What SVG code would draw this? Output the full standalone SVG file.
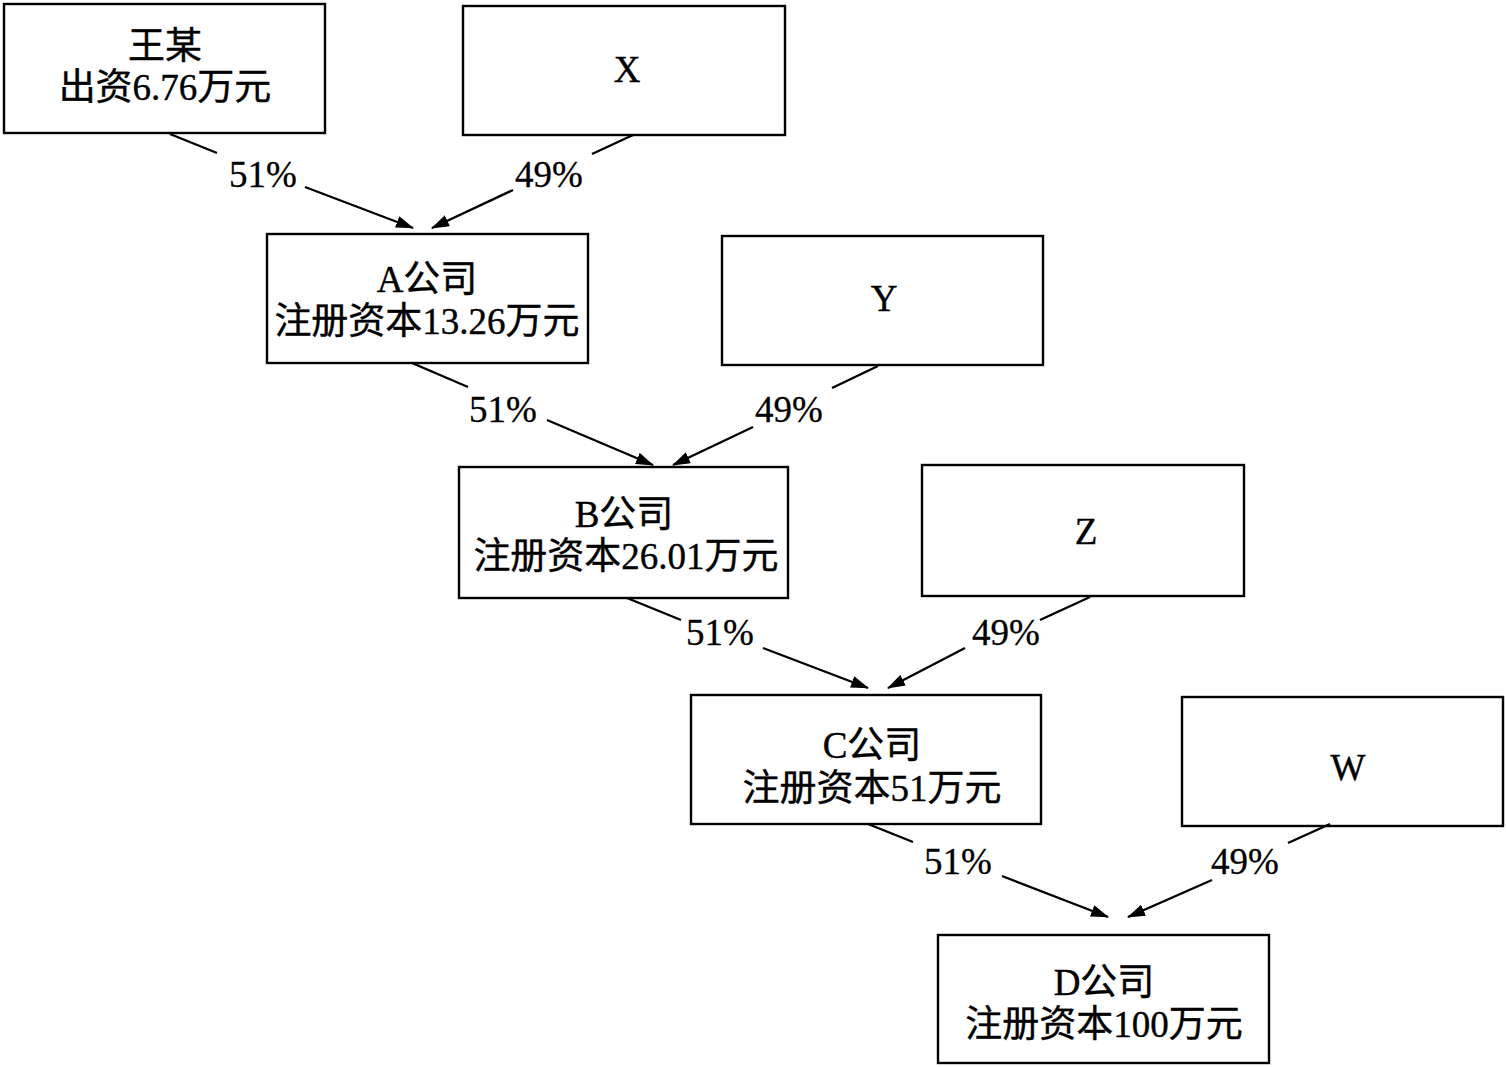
<svg xmlns="http://www.w3.org/2000/svg" width="1506" height="1067" viewBox="0 0 1506 1067">
<style>
.box{fill:#fff;stroke:#000;stroke-width:2.4}
.t{font-family:"Liberation Serif","Noto Sans CJK SC",serif;font-size:37px;fill:#000;text-anchor:middle;stroke:#000;stroke-width:0.4}
.p{font-family:"Liberation Serif",serif;font-size:37px;fill:#000;text-anchor:middle;stroke:#000;stroke-width:0.3}
.ln{stroke:#000;stroke-width:2.4;fill:none}
</style>
<defs>
<marker id="ah" viewBox="0 0 18 12" refX="17" refY="6" markerWidth="18" markerHeight="12" markerUnits="userSpaceOnUse" orient="auto">
<path d="M0,0 L18,6 L0,12 Z" fill="#000"/>
</marker>
</defs>
<rect width="1506" height="1067" fill="#fff"/>
<g id="wang"><rect class="box" x="4" y="4" width="321" height="129"/><text class="t" x="165" y="59">王某</text><text class="t" x="165" y="100">出资6.76万元</text></g>
<g id="X"><rect class="box" x="463" y="6" width="322" height="129"/><text class="t" x="627" y="82">X</text></g>
<g id="A"><rect class="box" x="267" y="234" width="321" height="129"/><text class="t" x="427" y="292">A公司</text><text class="t" x="427" y="334">注册资本13.26万元</text></g>
<g id="Y"><rect class="box" x="722" y="236" width="321" height="129"/><text class="t" x="884" y="311">Y</text></g>
<g id="B"><rect class="box" x="459" y="467" width="329" height="131"/><text class="t" x="624" y="527">B公司</text><text class="t" x="626" y="569">注册资本26.01万元</text></g>
<g id="Z"><rect class="box" x="922" y="465" width="322" height="131"/><text class="t" x="1086" y="544">Z</text></g>
<g id="C"><rect class="box" x="691" y="695" width="350" height="129"/><text class="t" x="872" y="758">C公司</text><text class="t" x="872" y="801">注册资本51万元</text></g>
<g id="W"><rect class="box" x="1182" y="697" width="321" height="129"/><text class="t" x="1348" y="780">W</text></g>
<g id="D"><rect class="box" x="938" y="935" width="331" height="128"/><text class="t" x="1104" y="995">D公司</text><text class="t" x="1104" y="1037">注册资本100万元</text></g>
<g id="connectors">
<line class="ln" x1="170" y1="134" x2="217" y2="153"/>
<line class="ln" x1="305" y1="187" x2="413" y2="228" marker-end="url(#ah)"/>
<line class="ln" x1="633" y1="135" x2="592" y2="154"/>
<line class="ln" x1="513" y1="190" x2="432" y2="228" marker-end="url(#ah)"/>
<text class="p" x="263" y="187">51%</text>
<text class="p" x="549" y="187">49%</text>
<line class="ln" x1="412" y1="363" x2="468" y2="387"/>
<line class="ln" x1="547" y1="420" x2="653" y2="465" marker-end="url(#ah)"/>
<line class="ln" x1="878" y1="366" x2="832" y2="388"/>
<line class="ln" x1="753" y1="427" x2="673" y2="465" marker-end="url(#ah)"/>
<text class="p" x="503" y="422">51%</text>
<text class="p" x="789" y="422">49%</text>
<line class="ln" x1="627" y1="598" x2="681" y2="620"/>
<line class="ln" x1="763" y1="648" x2="868" y2="688" marker-end="url(#ah)"/>
<line class="ln" x1="1090" y1="597" x2="1040" y2="620"/>
<line class="ln" x1="965" y1="648" x2="888" y2="688" marker-end="url(#ah)"/>
<text class="p" x="720" y="645">51%</text>
<text class="p" x="1006" y="645">49%</text>
<line class="ln" x1="868" y1="824" x2="913" y2="842"/>
<line class="ln" x1="1002" y1="876" x2="1108" y2="917" marker-end="url(#ah)"/>
<line class="ln" x1="1330" y1="824" x2="1288" y2="843"/>
<line class="ln" x1="1212" y1="880" x2="1128" y2="917" marker-end="url(#ah)"/>
<text class="p" x="958" y="874">51%</text>
<text class="p" x="1245" y="874">49%</text>
</g>
</svg>
